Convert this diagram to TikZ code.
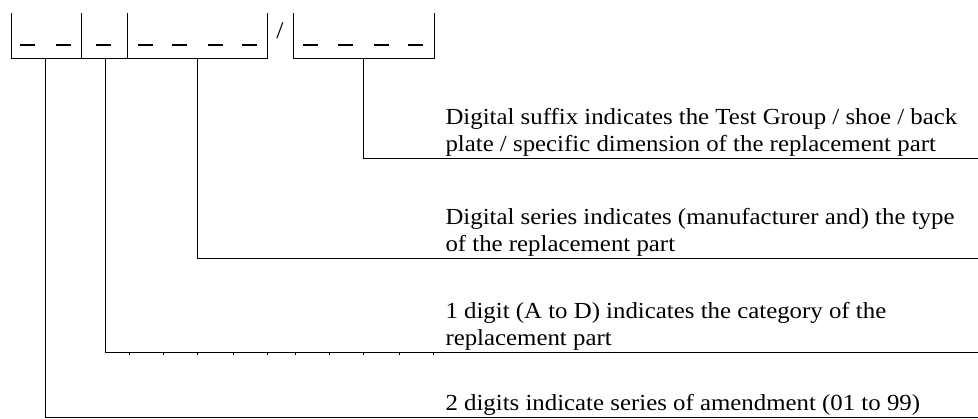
\documentclass[tikz,border=0pt]{standalone}
\usepackage{fontspec}
\setmainfont{Liberation Serif}[FakeStretch=1.08]
\begin{document}
\begin{tikzpicture}[x=1pt,y=-1pt,line width=1pt,
    note/.style={anchor=south west,inner sep=0pt,align=left,font=\fontsize{23}{27}\selectfont},
    blank/.style={line width=1.2pt}]
    \useasboundingbox (0,0) rectangle (978,418);

    \draw (11,13) -- (11,58) -- (267,58) -- (267,13);
    \draw (81,13) -- (81,58);
    \draw (127,13) -- (127,58);
    \draw (293,13) -- (293,58) -- (434,58) -- (434,13);
    \node[inner sep=0pt,font=\fontsize{24}{24}\selectfont] (slash) at (280,31) {/};

    \foreach \a in {20,56,96,138,172,208,242,303,338,374,408}
        \draw[blank] (\a,45) -- ++(15,0);

    \coordinate (amd)  at (45,58);
    \coordinate (cat)  at (105,58);
    \coordinate (ser)  at (197,58);
    \coordinate (suf)  at (363,58);

    \coordinate (amdend) at (978,417);
    \coordinate (catend) at (978,352);
    \coordinate (serend) at (978,258);
    \coordinate (sufend) at (978,158);

    \draw (suf) |- (sufend);
    \draw (ser) |- (serend);
    \draw (cat) |- (catend);
    \draw (amd) |- (amdend);

    \foreach \t in {129,163,197,233,267,295,329,363,399,433}
        \draw[line width=0.8pt] (\t,352) -- ++(0,3);

    \node[note] (suffix)    at (445,157) {Digital suffix indicates the Test Group / shoe / back\\plate / specific dimension of the replacement part};
    \node[note] (series)    at (445,257) {Digital series indicates (manufacturer and) the type\\of the replacement part};
    \node[note] (category)  at (445,351) {1 digit (A to D) indicates the category of the\\replacement part};
    \node[note] (amendment) at (445,416) {2 digits indicate series of amendment (01 to 99)};
\end{tikzpicture}
\end{document}
